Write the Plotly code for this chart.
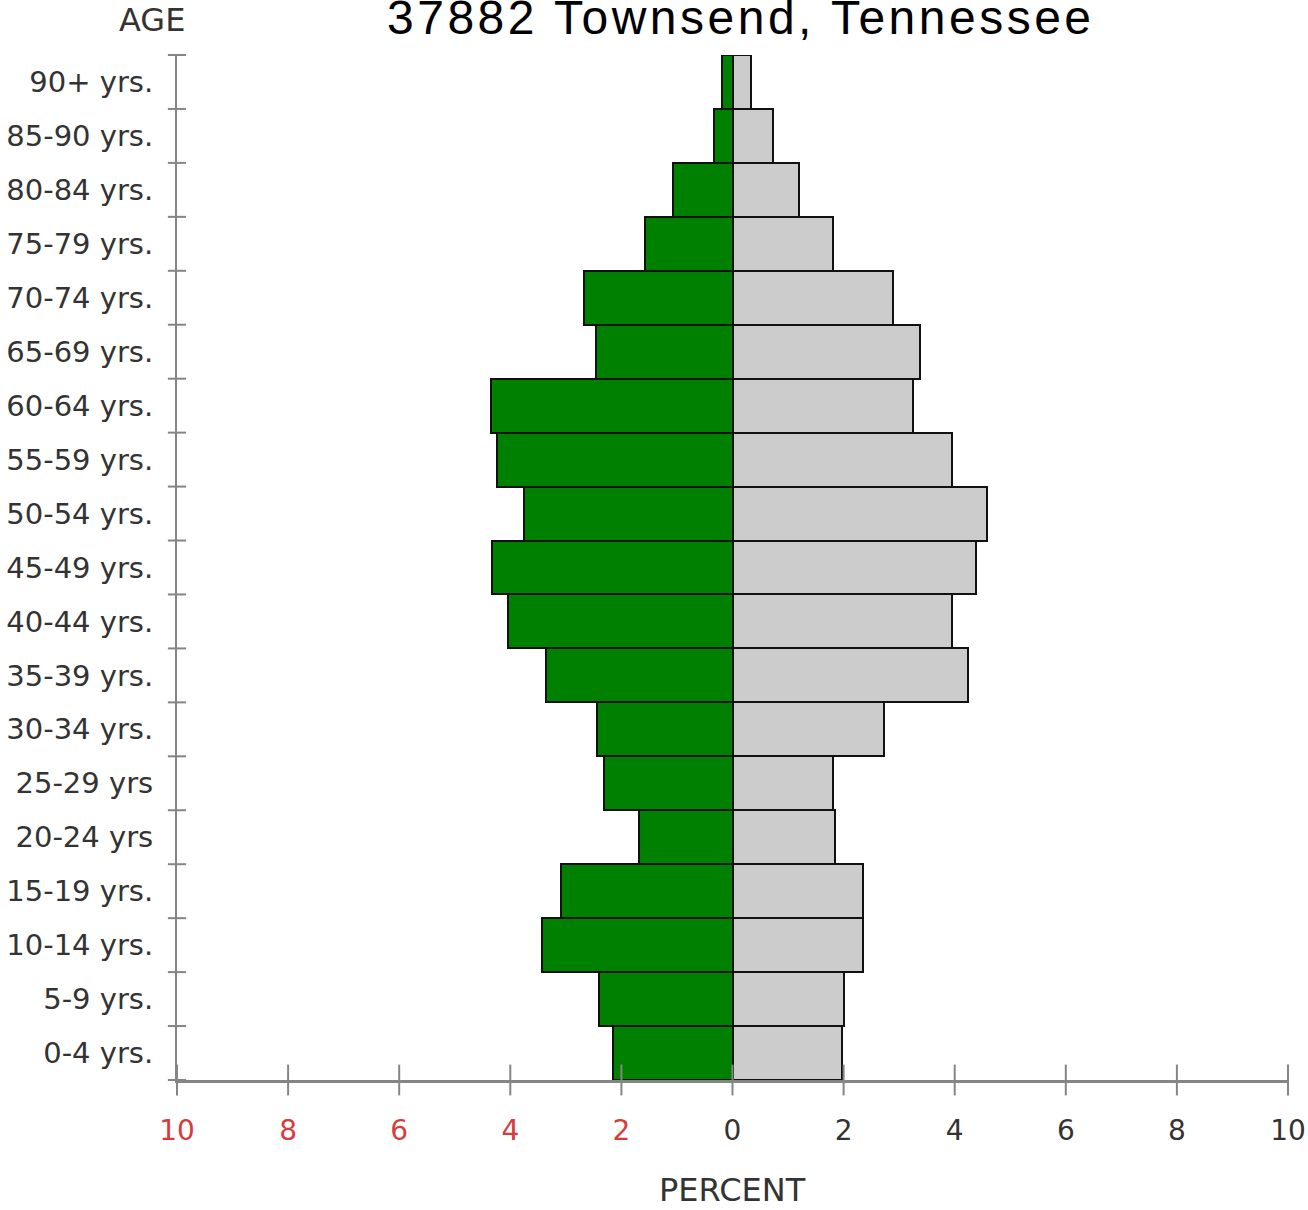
import plotly.graph_objects as go

age_labels = ["0-4 yrs.", "5-9 yrs.", "10-14 yrs.", "15-19 yrs.", "20-24 yrs", "25-29 yrs",
              "30-34 yrs.", "35-39 yrs.", "40-44 yrs.", "45-49 yrs.", "50-54 yrs.", "55-59 yrs.",
              "60-64 yrs.", "65-69 yrs.", "70-74 yrs.", "75-79 yrs.", "80-84 yrs.", "85-90 yrs.", "90+ yrs."]
male_pct = [2.15, 2.40, 3.43, 3.08, 1.68, 2.31, 2.44, 3.36, 4.04, 4.33, 3.75, 4.24,
            4.35, 2.46, 2.67, 1.58, 1.07, 0.33, 0.19]
female_pct = [1.97, 2.01, 2.35, 2.35, 1.84, 1.81, 2.73, 4.24, 3.95, 4.38, 4.58, 3.95,
              3.25, 3.38, 2.89, 1.81, 1.20, 0.73, 0.33]
x_ticks = [-10, -8, -6, -4, -2, 0, 2, 4, 6, 8, 10]
title_text = "37882 Townsend, Tennessee"

FONT = "DejaVu Sans"
LBL = "#333333"
RED = "#d93a3a"
AXC = "#858585"

n = len(age_labels)
ypos = list(range(n))
bounds = [i - 0.5 for i in range(n + 1)]
y_lo, y_hi = -0.5, n - 0.5

fig = go.Figure()
fig.add_trace(go.Bar(y=ypos, x=[-v for v in male_pct], orientation="h",
                     marker=dict(color="#008000", line=dict(color="#111111", width=2)),
                     showlegend=False, hoverinfo="skip"))
fig.add_trace(go.Bar(y=ypos, x=female_pct, orientation="h",
                     marker=dict(color="#cccccc", line=dict(color="#111111", width=2)),
                     showlegend=False, hoverinfo="skip"))
# crossing tick marks on the axes
fig.add_trace(go.Scatter(x=x_ticks, y=[y_lo] * len(x_ticks), mode="markers", cliponaxis=False,
                         marker=dict(symbol="line-ns-open", size=22, color=AXC,
                                     line=dict(color=AXC, width=2)),
                         showlegend=False, hoverinfo="skip"))
fig.add_trace(go.Scatter(x=[-10] * len(bounds), y=bounds, mode="markers", cliponaxis=False,
                         marker=dict(symbol="line-ew-open", size=13, color=AXC,
                                     line=dict(color=AXC, width=2)),
                         showlegend=False, hoverinfo="skip"))

ticktext = []
for v in x_ticks:
    if v < 0:
        ticktext.append(f"<span style='color:{RED}'>{abs(v)}</span>")
    else:
        ticktext.append(str(v))

W, H = 1308, 1210
fig.update_layout(
    width=W, height=H,
    margin=dict(l=177, r=20, t=55, b=130),
    paper_bgcolor="white", plot_bgcolor="white",
    barmode="overlay", bargap=0,
    font=dict(family=FONT, size=28, color=LBL),
    xaxis=dict(range=[-10, 10], tickvals=x_ticks, ticktext=ticktext, ticks="",
               showline=True, linecolor=AXC, linewidth=3, showgrid=False, zeroline=False,
               ticklabelstandoff=23, tickfont=dict(size=28, color=LBL), automargin=False),
    yaxis=dict(range=[y_lo, y_hi], tickvals=ypos, ticktext=age_labels, ticks="",
               showline=True, linecolor=AXC, linewidth=2, showgrid=False, zeroline=False,
               ticklabelstandoff=16, tickfont=dict(size=29, color=LBL), automargin=False),
    annotations=[
        dict(text=f"<span style='letter-spacing:3.5px'>{title_text}</span>",
             xref="paper", yref="paper", x=(741 - 177) / 1111, xanchor="center",
             y=1 + (55 - 17.5) / 1025, yanchor="middle", showarrow=False,
             font=dict(family="Liberation Sans", size=48, color="black")),
        dict(text="AGE", xref="paper", yref="paper", x=(187 - 177) / 1111, xanchor="right",
             y=1 + (55 - 20) / 1025, yanchor="middle", showarrow=False,
             font=dict(family=FONT, size=32, color=LBL)),
        dict(text="PERCENT", xref="x", yref="paper", x=0, xanchor="center",
             y=-(1190 - 1080) / 1025, yanchor="middle", showarrow=False,
             font=dict(family=FONT, size=32, color=LBL)),
    ],
)

fig.write_html("out.html", config={"displayModeBar": False},
               post_script="document.body.style.margin='0';document.body.style.padding='0';")
